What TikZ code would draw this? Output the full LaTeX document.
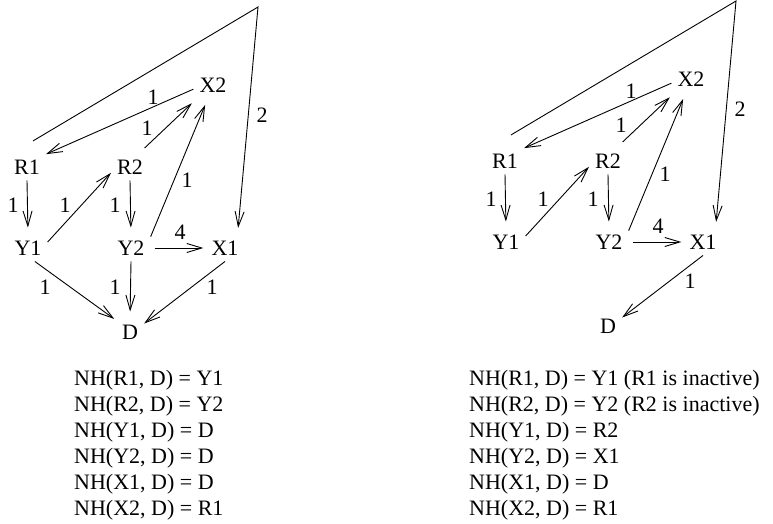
\documentclass[tikz,border=0pt]{standalone}
\usepackage{fontspec}
\setmainfont{Liberation Serif}
\usetikzlibrary{arrows.meta}
\begin{document}
\begin{tikzpicture}[x=1pt,y=-1pt,
  every node/.style={font=\fontsize{22}{26}\selectfont},
  vtx/.style={inner xsep=6pt,inner ysep=6pt},
  lbl/.style={inner sep=0pt},
  txt/.style={inner sep=0pt,anchor=base west},
  ln/.style={line width=0.9pt},
  arr/.style={line width=0.9pt,-{Straight Barb[length=15pt,width=9pt,line width=0.9pt]}}]
\useasboundingbox (0,0) rectangle (773,524);

% ---------- left diagram ----------
\node[vtx] (R1) at (27,167) {R1};
\node[vtx] (R2) at (130,167) {R2};
\node[vtx] (X2) at (213,85) {X2};
\node[vtx] (Y1) at (28,248) {Y1};
\node[vtx] (Y2) at (131,248) {Y2};
\node[vtx] (X1) at (225,248) {X1};
\node[vtx] (D) at (130,332) {D};
\coordinate (T) at (258,7);

\draw[arr,shorten >=7pt] (R1.south) -- (Y1.north);
\draw[arr,shorten >=7pt] (R2.south) -- (Y2.north);
\draw[arr,shorten >=7pt] (Y2.south) -- (D.north);
\draw[arr,shorten <=4pt,shorten >=2pt] (Y2.east) -- (X1.west);
\draw[arr,shorten >=2pt] (Y1.-63) -- (D.140);
\draw[arr] (X1.south) -- (D.31);
\draw[arr] (Y1.17) -- (R2.197);
\draw[arr,shorten >=7pt] (Y2.30) -- (X2.249);
\draw[arr,shorten <=8pt,shorten >=7pt] (R2.57) -- (X2.220);
\draw[arr] (X2.192) -- (R1.34);
\draw[arr,shorten >=6.6pt] ([xshift=6pt,yshift=12.6pt]R1.north) -- (T) -- (X1.47);

\node[lbl] (a1) at (153,97) {1};
\node[lbl] (a2) at (147,128) {1};
\node[lbl] (a3) at (187,180) {1};
\node[lbl] (a4) at (13,205) {1};
\node[lbl] (a5) at (65,205) {1};
\node[lbl] (a6) at (115,205) {1};
\node[lbl] (a7) at (180,232) {4};
\node[lbl] (a8) at (45,287) {1};
\node[lbl] (a9) at (115,287) {1};
\node[lbl] (a10) at (212,287) {1};
\node[lbl] (a11) at (262,115) {2};

% ---------- right diagram ----------
\begin{scope}[shift={(478,-6)}]
\node[vtx] (R1b) at (27,167) {R1};
\node[vtx] (R2b) at (130,167) {R2};
\node[vtx] (X2b) at (213,85) {X2};
\node[vtx] (Y1b) at (28,248) {Y1};
\node[vtx] (Y2b) at (131,248) {Y2};
\node[vtx] (X1b) at (225,248) {X1};
\node[vtx] (Db) at (130,332) {D};
\coordinate (Tb) at (258,7);

\draw[arr,shorten >=7pt] (R1b.south) -- (Y1b.north);
\draw[arr,shorten >=7pt] (R2b.south) -- (Y2b.north);
\draw[arr,shorten <=4pt,shorten >=2pt] (Y2b.east) -- (X1b.west);
\draw[arr] (X1b.south) -- (Db.31);
\draw[arr] (Y1b.17) -- (R2b.197);
\draw[arr,shorten >=7pt] (Y2b.30) -- (X2b.249);
\draw[arr,shorten <=8pt,shorten >=7pt] (R2b.57) -- (X2b.220);
\draw[arr] (X2b.192) -- (R1b.34);
\draw[arr,shorten >=6.6pt] ([xshift=6pt,yshift=12.6pt]R1b.north) -- (Tb) -- (X1b.47);

\node[lbl] (b1) at (153,97) {1};
\node[lbl] (b2) at (143,131) {1};
\node[lbl] (b3) at (187,180) {1};
\node[lbl] (b4) at (13,205) {1};
\node[lbl] (b5) at (65,205) {1};
\node[lbl] (b6) at (115,205) {1};
\node[lbl] (b7) at (180,232) {4};
\node[lbl] (b10) at (212,287) {1};
\node[lbl] (b11) at (262,115) {2};
\end{scope}

% ---------- text ----------
\node[txt] (t1) at (74,385) {NH(R1, D) = Y1};
\node[txt] (t2) at (74,411) {NH(R2, D) = Y2};
\node[txt] (t3) at (74,437) {NH(Y1, D) = D};
\node[txt] (t4) at (74,463) {NH(Y2, D) = D};
\node[txt] (t5) at (74,489) {NH(X1, D) = D};
\node[txt] (t6) at (74,515) {NH(X2, D) = R1};

\node[txt] (u1) at (469,385) {NH(R1, D) = Y1 (R1 is inactive)};
\node[txt] (u2) at (469,411) {NH(R2, D) = Y2 (R2 is inactive)};
\node[txt] (u3) at (469,437) {NH(Y1, D) = R2};
\node[txt] (u4) at (469,463) {NH(Y2, D) = X1};
\node[txt] (u5) at (469,489) {NH(X1, D) = D};
\node[txt] (u6) at (469,515) {NH(X2, D) = R1};
\end{tikzpicture}
\end{document}
